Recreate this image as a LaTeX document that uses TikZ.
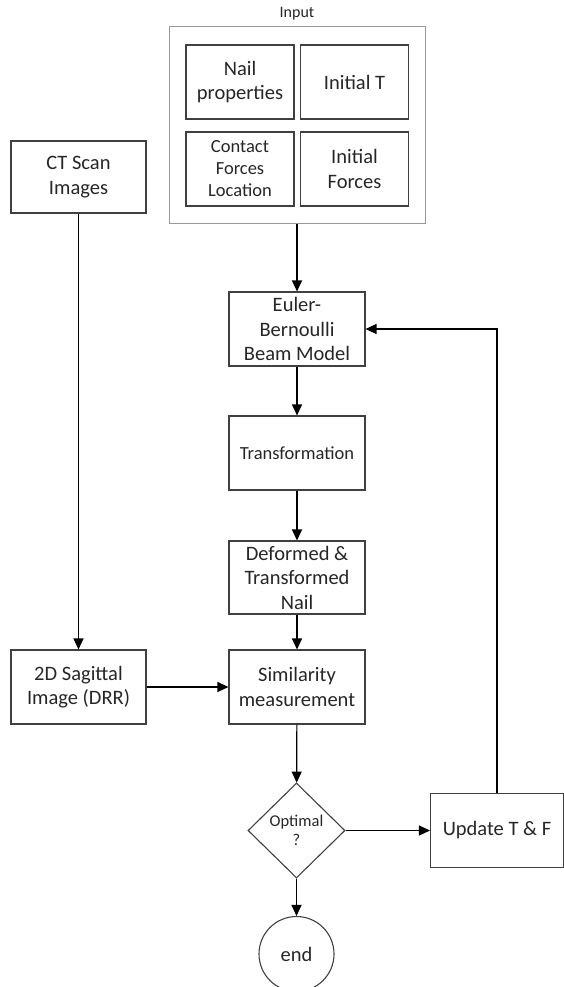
\documentclass[tikz,border=0pt]{standalone}
\usepackage{fontspec}
\setmainfont{Carlito}
\usepackage{tikz}
\usetikzlibrary{arrows.meta}
\usetikzlibrary{shapes.geometric}

\begin{document}
\begin{tikzpicture}[x=1pt,y=-1pt,
		box/.style={draw=black!75,line width=1.1pt,align=center,text=black!85,inner sep=1pt,
			font=\fontsize{20.5}{24.5}\selectfont,minimum width=136pt,minimum height=74pt},
		small/.style={font=\fontsize{18.5}{22}\selectfont},
		inbox/.style={box,minimum width=108pt,minimum height=74pt},
		arr/.style={-{Triangle[length=11pt,width=10pt]},line width=1.2pt,black}]
		\useasboundingbox (0,0) rectangle (563,987);
		\node[draw=black!40,line width=1pt,minimum width=256pt,minimum height=196pt] (frame) at (297,125) {};
		\node[text=black!85,font=\fontsize{16}{19}\selectfont] (input) at (297,14) {Input};
		\node[inbox] (nail) at (240,82) {Nail\\properties};
		\node[inbox] (initT) at (354.5,82) {Initial T};
		\node[inbox,small] (contact) at (240,169) {Contact\\Forces\\Location};
		\node[inbox] (initF) at (354.5,169) {Initial\\Forces};
		\node[box,minimum width=135pt,minimum height=72pt] (ct) at (78.5,177) {CT Scan\\Images};
		\node[box] (euler) at (297,329) {Euler-\\Bernoulli\\Beam Model};
		\node[box,small] (trans) at (297,453) {Transformation};
		\node[box,minimum height=73pt] (deformed) at (297,577.5) {Deformed \&\\Transformed\\Nail};
		\node[box] (simil) at (297,687) {Similarity\\measurement};
		\node[box,minimum width=135pt] (sag) at (78.5,687) {2D Sagittal\\Image (DRR)};
		\node[diamond,draw=black!75,line width=1.1pt,align=center,text=black!85,inner sep=0pt,
			minimum width=97pt,minimum height=95pt,font=\fontsize{16.5}{19.5}\selectfont] (optimal) at (296.5,830.5) {Optimal\\?};
		\node[box,minimum width=133pt] (update) at (497,830.5) {Update T \& F};
		\node[circle,draw=black!75,line width=1.1pt,text=black!85,minimum size=75pt,inner sep=0pt,
			font=\fontsize{20.5}{24.5}\selectfont] (end) at (296.5,954) {end};
		\draw[arr] (frame) -- (euler);
		\draw[arr] (euler) -- (trans);
		\draw[arr] (trans) -- (deformed);
		\draw[arr] (deformed) -- (simil);
		\draw[arr] (ct) -- (sag);
		\draw[arr] (sag) -- (simil);
		\draw[arr] (simil) -- (optimal);
		\draw[arr] (optimal) -- (update);
		\draw[arr] (optimal) -- (end);
		\draw[arr] (update.north) |- (euler.east);
	\end{tikzpicture}
\end{document}
